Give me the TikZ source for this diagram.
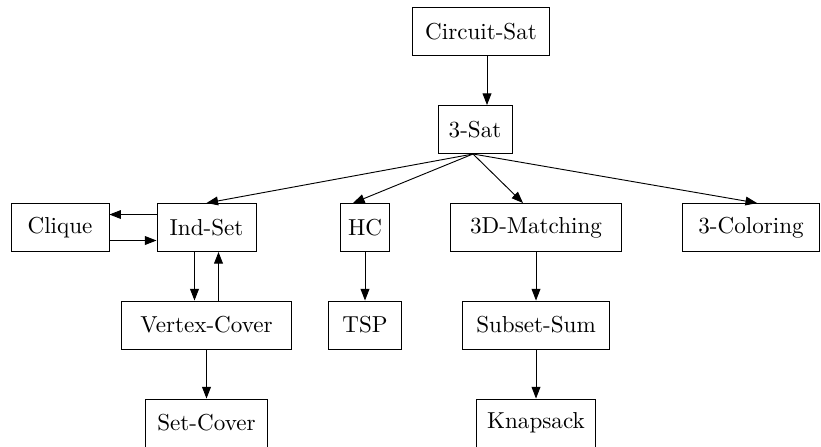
\documentclass[tikz,border=0pt]{standalone}
\usepackage{tikz}
\usetikzlibrary{arrows.meta, positioning, calc}
\tikzset{
  problem/.style={rectangle, draw=black, inner sep=0pt,
                  minimum height=20.8pt},
  reduce/.style={-{Triangle[length=5pt, width=3.8pt]}},
}

\begin{document}
\begin{tikzpicture}[x=0.433pt, y=-0.433pt]
    \useasboundingbox (0,0) rectangle (821,446);
    \node[problem, minimum width=59pt]   (csat)   at (481,31.5)  {Circuit-Sat};
    \node[problem, minimum width=32pt]   (tsat)   at (475,129.5) {3-Sat};
    \node[problem, minimum width=42.4pt] (clique) at (60,227.5)  {Clique};
    \node[problem, minimum width=42.9pt] (indset) at (206.5,227.5) {Ind-Set};
    \node[problem, minimum width=21pt]   (hc)     at (365,227.5) {HC};
    \node[problem, minimum width=74.3pt] (tdm)    at (536,227.5) {3D-Matching};
    \node[problem, minimum width=59.1pt] (tcol)   at (751,227.5) {3-Coloring};
    \node[problem, minimum width=74pt]   (vc)     at (206.5,325) {Vertex-Cover};
    \node[problem, minimum width=31.8pt] (tsp)    at (365,325)   {TSP};
    \node[problem, minimum width=63.7pt] (ssum)   at (536,325)   {Subset-Sum};
    \node[problem, minimum width=53pt]   (setc)   at (206.5,423) {Set-Cover};
    \node[problem, minimum width=51.5pt] (knap)   at (536,423)   {Knapsack};
    \coordinate (fan) at ($(tsat.south)+(-2,0)$);
    % Reductions
    \draw[reduce] ($(csat.south)+(6,0)$) -- ($(tsat.north)+(12,0)$);
    \draw[reduce] (fan) -- (indset.north);
    \draw[reduce] (fan) -- ($(hc.north)+(-12,0)$);
    \draw[reduce] (fan) -- ($(tdm.north)+(-13,0)$);
    \draw[reduce] (fan) -- ($(tcol.north)+(6,0)$);
    \draw[reduce] ($(indset.west)+(0,-13)$) -- ($(clique.east)+(0,-13)$);
    \draw[reduce] ($(clique.east)+(0,13)$) -- ($(indset.west)+(0,13)$);
    \draw[reduce] ($(indset.south)+(-12,0)$) -- ($(vc.north)+(-12,0)$);
    \draw[reduce] ($(vc.north)+(12,0)$) -- ($(indset.south)+(12,0)$);
    \draw[reduce] (vc) -- (setc);
    \draw[reduce] (hc) -- (tsp);
    \draw[reduce] (tdm) -- (ssum);
    \draw[reduce] (ssum) -- (knap);
\end{tikzpicture}
\end{document}
